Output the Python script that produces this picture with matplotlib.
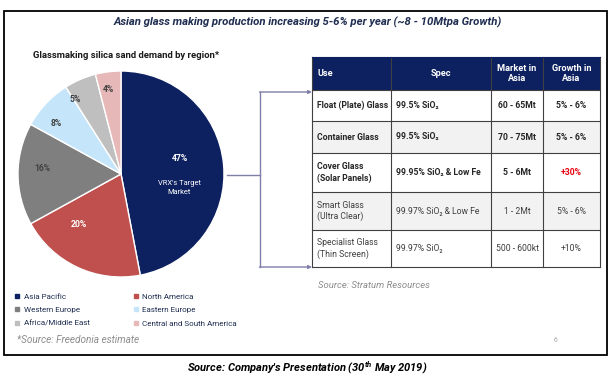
import matplotlib
matplotlib.use("Agg")
import matplotlib.pyplot as plt
from matplotlib.patches import Rectangle
from matplotlib.lines import Line2D
import numpy as np

plt.rcParams['font.family'] = ['Roboto', 'DejaVu Sans']
plt.rcParams['mathtext.fontset'] = 'custom'
plt.rcParams['mathtext.it'] = 'Roboto:italic:bold'
plt.rcParams['mathtext.rm'] = 'Roboto:bold'

# pie data
regions = ['Asia Pacific', 'North America', 'Western Europe', 'Eastern Europe',
           'Africa/Middle East', 'Central and South America']
shares = [47, 20, 16, 8, 5, 4]
region_colors = ['#0D2160', '#C0504D', '#7F7F7F', '#C5E6FA', '#BFBFBF', '#E6B9B8']

# table data
headers = ['Use', 'Spec', 'Market in\nAsia', 'Growth in\nAsia']
uses = ['Float (Plate) Glass', 'Container Glass', 'Cover Glass\n(Solar Panels)',
        'Smart Glass\n(Ultra Clear)', 'Specialist Glass\n(Thin Screen)']
specs = ['99.5% SiO\u2082', '99.5% SiO\u2082', '99.95% SiO\u2082 & Low Fe',
         '99.97% SiO\u2082 & Low Fe', '99.97% SiO\u2082']
markets = ['60 - 65Mt', '70 - 75Mt', '5 - 6Mt', '1 - 2Mt', '500 - 600kt']
growth = ['5% - 6%', '5% - 6%', '+30%', '5% - 6%', '+10%']

NAVY = '#0D2160'
TXT = '#1F2D50'

W, H = 615, 378
fig = plt.figure(figsize=(W / 100, H / 100), dpi=100)
ax = fig.add_axes([0, 0, 1, 1])
ax.set_xlim(0, W)
ax.set_ylim(H, 0)
ax.axis('off')

# outer frame
ax.add_patch(Rectangle((4, 11), 603, 344, fill=False, ec='black', lw=1.3))

ax.text(308, 22, 'Asian glass making production increasing 5-6% per year (~8 - 10Mtpa Growth)',
        ha='center', va='center', fontsize=8.2, fontweight='bold', style='italic', color=TXT)
ax.text(33, 56, 'Glassmaking silica sand demand by region*', ha='left', va='center',
        fontsize=6.8, fontweight='bold', color='#1A1A1A')

# pie
cx, cy, r = 121, 174, 103
pax = fig.add_axes([(cx - r) / W, (H - cy - r) / H, 2 * r / W, 2 * r / H])
wedges, _ = pax.pie(shares, colors=region_colors, startangle=90, counterclock=False,
                    radius=1, wedgeprops=dict(edgecolor='white', linewidth=1.0))
pax.set_xlim(-1, 1)
pax.set_ylim(-1, 1)
pax.axis('off')

label_r = [0.57, 0.64, 0.77, 0.80, 0.85, 0.83]
label_nudge = [0, -15, -4, 5, 8, 1]
label_col = ['white', 'white', '#404040', '#404040', '#404040', '#404040']
for w, s, lr, nd, lc in zip(wedges, shares, label_r, label_nudge, label_col):
    a = np.deg2rad((w.theta1 + w.theta2) / 2 + nd)
    x, y = lr * np.cos(a), lr * np.sin(a)
    dy = 0.10 if s == shares[0] else 0
    pax.text(x, y + dy, f'{s}%', ha='center', va='center', fontsize=6.2,
             fontweight='bold', color=lc)
    if s == shares[0]:
        pax.text(x, y - 0.185, "VRX's Target\nMarket", ha='center', va='center',
                 fontsize=5.4, color='white', linespacing=1.4)

# legend
handles = [Line2D([], [], marker='s', ls='', ms=2.6, color=c) for c in region_colors]
order = [0, 2, 4, 1, 3, 5]
fig.legend([handles[i] for i in order], [regions[i] for i in order],
           loc='upper left', bbox_to_anchor=(11 / W, 1 - 289 / H), ncol=2,
           frameon=False, fontsize=5.8, handlelength=0.6, handletextpad=0.5,
           columnspacing=5.4, labelspacing=0.85, labelcolor=TXT, borderpad=0)

ax.text(17, 340, '*Source: Freedonia estimate', ha='left', va='center', fontsize=7.2,
        style='italic', color='#8C8C8C')

# connector
LC = '#7F7FAA'
ax.plot([227, 260], [175, 175], color=LC, lw=1)
ax.plot([260, 260], [92, 267], color=LC, lw=1)
for yy in (92, 267):
    ax.annotate('', xy=(312, yy), xytext=(259.5, yy),
                arrowprops=dict(arrowstyle='-|>', color=LC, lw=1, mutation_scale=5,
                                shrinkA=0, shrinkB=0))

# table
col_x = [312, 391, 491, 543, 600]
row_y = [57, 90, 121, 153, 192, 230, 267]
ax.add_patch(Rectangle((col_x[0], row_y[0]), col_x[-1] - col_x[0], row_y[1] - row_y[0],
                       fc=NAVY, ec='none'))
for i in range(len(uses)):
    fc = '#F2F2F2' if i % 2 == 1 else 'white'
    ax.add_patch(Rectangle((col_x[0], row_y[i + 1]), col_x[-1] - col_x[0],
                           row_y[i + 2] - row_y[i + 1], fc=fc, ec='none'))
for yy in row_y[1:]:
    ax.plot([col_x[0], col_x[-1]], [yy, yy], color='#404040', lw=0.8)
for xx in col_x:
    ax.plot([xx, xx], [row_y[0], row_y[-1]], color='#404040', lw=0.8)
ax.plot([col_x[0], col_x[-1]], [row_y[0], row_y[0]], color=NAVY, lw=0.8)

aligns = ['left', 'center', 'center', 'center']
hy = (row_y[0] + row_y[1]) / 2
for j, h in enumerate(headers):
    x = col_x[j] + 5 if aligns[j] == 'left' else (col_x[j] + col_x[j + 1]) / 2
    ax.text(x, hy, h, ha=aligns[j], va='center', fontsize=6.6, fontweight='bold',
            color='white', linespacing=1.2)

cell_align = ['left', 'left', 'center', 'center']
for i in range(len(uses)):
    yc = (row_y[i + 1] + row_y[i + 2]) / 2
    wt = 'bold' if i < 3 else 'normal'
    vals = [uses[i], specs[i], markets[i], growth[i]]
    for j, v in enumerate(vals):
        x = col_x[j] + 5 if cell_align[j] == 'left' else (col_x[j] + col_x[j + 1]) / 2
        col = '#E8000B' if v == '+30%' else ('#262626' if i < 3 else '#3F3F3F')
        ax.text(x, yc, v, ha=cell_align[j], va='center', fontsize=6.2, fontweight=wt,
                color=col, linespacing=1.3)

ax.text(318, 285, 'Source: Stratum Resources', ha='left', va='center', fontsize=6.8,
        style='italic', color='#8C8C8C')
ax.text(556, 341, '6', ha='center', va='center', fontsize=4.8, color='#A6A6A6')

ax.text(307, 368, "Source: Company's Presentation (30$^{th}$ May 2019)", ha='center',
        va='center', fontsize=8.0, fontweight='bold', style='italic', color='black')

fig.savefig('out.png', dpi=100)
